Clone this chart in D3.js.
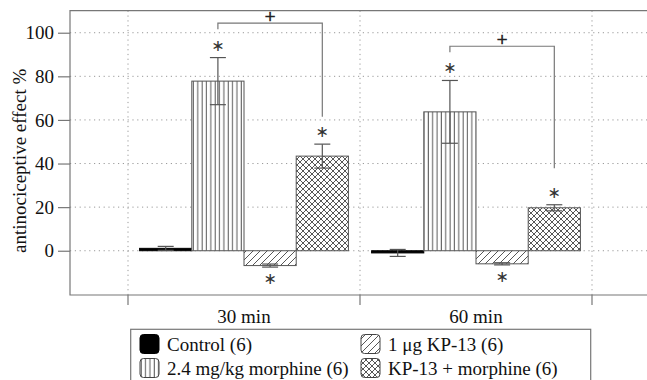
<!DOCTYPE html>
<html>
<head>
<meta charset="utf-8">
<script src="https://cdn.jsdelivr.net/npm/d3@7"></script>
<style>
  body { margin: 0; background: #fff; }
  text { font-family: "Liberation Serif", "Times New Roman", serif; fill: #111; }
</style>
</head>
<body>
<div id="chart"></div>
<script>
// data
const times = ["30 min", "60 min"];
const groups = ["Control (6)", "2.4 mg/kg morphine (6)", "1 \u03bcg KP-13 (6)", "KP-13 + morphine (6)"];
const control = [1.1, -1.0];
const controlErr = [0.9, 1.6];
const morphine = [77.8, 63.7];
const morphineErr = [10.8, 14.4];
const kp13 = [-6.8, -6.0];
const kp13Err = [0.7, 0.5];
const combo = [43.4, 19.7];
const comboErr = [5.5, 1.4];
const starred = [false, true, true, true];   // * vs control, same at both times
const yTicks = [0, 20, 40, 60, 80, 100];
// "+" brackets, morphine vs KP-13 + morphine
const bracketTop = [104.4, 93.8];
const bracketLeftEnd = [101.6, 91.0];
const bracketRightEnd = [61.5, 37.8];

const values = [control, morphine, kp13, combo];
const errors = [controlErr, morphineErr, kp13Err, comboErr];

const W = 647, H = 380;
const mLeft = 70, mTop = 10.7, mBottom = 295, mRight = 650;
const serif = "'Liberation Serif', 'Times New Roman', serif";

const svg = d3.select("#chart").append("svg")
  .attr("width", W).attr("height", H);

// hatch patterns
const defs = svg.append("defs");
const pat = (id, w, h, d) => {
  const p = defs.append("pattern").attr("id", id)
    .attr("patternUnits", "userSpaceOnUse")
    .attr("width", w).attr("height", h);
  p.append("rect").attr("width", w).attr("height", h).attr("fill", "#fff");
  p.append("path").attr("d", d).attr("stroke", "#444").attr("stroke-width", 0.9).attr("fill", "none");
};
pat("vert", 4.35, 10, "M2,0 V10");
pat("diag", 7, 7, "M-1.75,1.75 L1.75,-1.75 M0,7 L7,0 M5.25,8.75 L8.75,5.25");
pat("cross", 6, 6, "M0,0 L6,6 M6,0 L0,6 M-3,3 L3,-3 M3,9 L9,3 M-3,3 L3,9 M3,-3 L9,3");
const fills = ["#000", "url(#vert)", "url(#diag)", "url(#cross)"];

const x = d3.scaleBand().domain(times).range([128, 592]);
const xs = d3.scaleBand().domain(groups).range([0, x.bandwidth()])
  .paddingInner(0).paddingOuter(0.222);
const y = d3.scaleLinear().domain([-20.3, 110.1]).range([mBottom, mTop]);

const bounds = times.map(t => x(t)).concat([x(times[times.length - 1]) + x.bandwidth()]);

// grid
svg.append("g").selectAll("line").data(yTicks).join("line")
  .attr("x1", mLeft).attr("x2", W)
  .attr("y1", d => y(d)).attr("y2", d => y(d))
  .attr("stroke", "#999").attr("stroke-width", 1).attr("stroke-dasharray", "1.2,3.6");
svg.append("g").selectAll("line").data(bounds).join("line")
  .attr("x1", d => d).attr("x2", d => d)
  .attr("y1", mTop).attr("y2", mBottom)
  .attr("stroke", "#999").attr("stroke-width", 1).attr("stroke-dasharray", "1.2,3.6");

// frame (open on the right)
svg.append("path")
  .attr("d", `M${mRight},${mTop}H${mLeft}V${mBottom}H${mRight}`)
  .attr("fill", "none").attr("stroke", "#777").attr("stroke-width", 1.2);

// y axis
const yAxis = svg.append("g").attr("transform", `translate(${mLeft},0)`)
  .call(d3.axisLeft(y).tickValues(yTicks).tickSize(12).tickPadding(4));
yAxis.attr("font-family", null).attr("font-size", null);
yAxis.select(".domain").remove();
yAxis.selectAll(".tick line").attr("stroke", "#777").attr("stroke-width", 1.2);
yAxis.selectAll(".tick text").style("font-family", serif)
  .style("font-size", "19px").attr("fill", "#111");

svg.append("text")
  .attr("transform", `translate(19,${(mTop + mBottom) / 2 + 8}) rotate(-90)`)
  .attr("text-anchor", "middle").attr("dominant-baseline", "central")
  .style("font-family", serif).style("font-size", "19px")
  .text("antinociceptive effect %");

// x ticks & labels
svg.append("g").selectAll("line").data(bounds).join("line")
  .attr("x1", d => d).attr("x2", d => d)
  .attr("y1", mBottom).attr("y2", mBottom + 10)
  .attr("stroke", "#777").attr("stroke-width", 1.2);
svg.append("g").selectAll("text").data(times).join("text")
  .attr("x", d => x(d) + x.bandwidth() / 2).attr("y", 323)
  .attr("text-anchor", "middle")
  .style("font-family", serif).style("font-size", "19px")
  .text(d => d);

// bars
times.forEach((t, i) => {
  const g = svg.append("g");
  groups.forEach((grp, j) => {
    const v = values[j][i], e = errors[j][i];
    const bx = x(t) + xs(grp), bw = xs.bandwidth();
    g.append("rect")
      .attr("x", bx).attr("width", bw)
      .attr("y", y(Math.max(0, v)))
      .attr("height", Math.abs(y(v) - y(0)))
      .attr("fill", fills[j])
      .attr("stroke", j === 0 ? "#000" : "#555").attr("stroke-width", 1);
    const cx = bx + bw / 2;
    const eb = g.append("g").attr("stroke", "#555").attr("stroke-width", 1.2);
    eb.append("line").attr("x1", cx).attr("x2", cx).attr("y1", y(v - e)).attr("y2", y(v + e));
    [v - e, v + e].forEach(c => eb.append("line")
      .attr("x1", cx - 8).attr("x2", cx + 8).attr("y1", y(c)).attr("y2", y(c)));
    if (starred[j]) {
      const cy = v >= 0 ? y(v + e) - 12.5 : y(v - e) + 11.5;
      g.append("text").attr("x", cx).attr("y", cy)
        .attr("text-anchor", "middle").attr("dominant-baseline", "central")
        .style("font-family", "'DejaVu Sans', sans-serif").style("font-size", "16px")
        .style("fill", "#333")
        .text("\u2217");
    }
  });
  // bracket
  const lx = x(t) + xs(groups[1]) + xs.bandwidth() / 2;
  const rx = x(t) + xs(groups[3]) + xs.bandwidth() / 2;
  svg.append("path")
    .attr("d", `M${lx},${y(bracketLeftEnd[i])}V${y(bracketTop[i])}H${rx}V${y(bracketRightEnd[i])}`)
    .attr("fill", "none").attr("stroke", "#777").attr("stroke-width", 1.2);
  svg.append("text").attr("x", (lx + rx) / 2).attr("y", y(bracketTop[i]) - 0.5)
    .attr("text-anchor", "middle")
    .style("font-family", serif).style("font-size", "19px")
    .style("fill", "#222").style("stroke", "#222").style("stroke-width", 0.6)
    .text("+");
});

// legend
const lg = svg.append("g");
lg.append("rect").attr("x", 130.7).attr("y", 329.3).attr("width", 460).attr("height", 70)
  .attr("fill", "#fff").attr("stroke", "#777").attr("stroke-width", 1.2);
const legCols = [140, 361];
const legRows = [334.5, 358.5];
const legOrder = [[0, 0], [1, 0], [0, 1], [1, 1]]; // [row, col] per group
groups.forEach((grp, j) => {
  const lx = legCols[legOrder[j][1]], ly = legRows[legOrder[j][0]];
  lg.append("rect").attr("x", lx).attr("y", ly).attr("width", 19).attr("height", 19)
    .attr("rx", 3.5).attr("fill", fills[j])
    .attr("stroke", j === 0 ? "#000" : "#444").attr("stroke-width", 1);
  lg.append("text").attr("x", lx + 27).attr("y", ly + 16)
    .style("font-family", serif).style("font-size", "19px").text(grp);
});
</script>
</body>
</html>
